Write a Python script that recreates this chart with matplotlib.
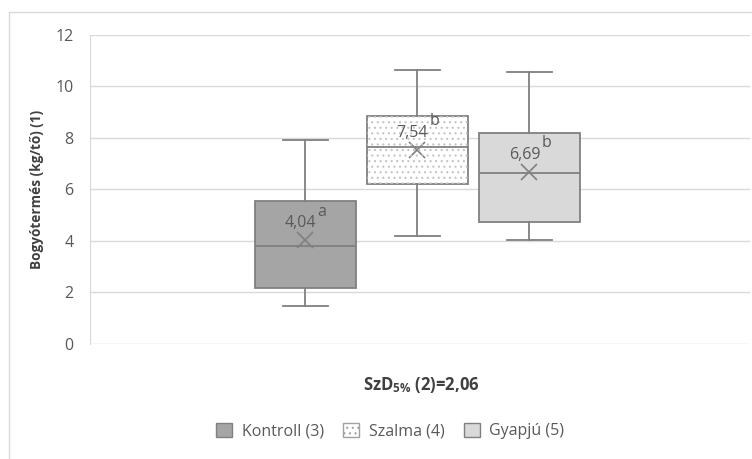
import matplotlib
matplotlib.use("Agg")
import matplotlib.pyplot as plt
from matplotlib.patches import PathPatch, Patch, Rectangle

plt.rcParams['font.family'] = ['Open Sans', 'DejaVu Sans']
plt.rcParams['mathtext.fontset'] = 'custom'
plt.rcParams['mathtext.rm'] = 'Open Sans'
plt.rcParams['mathtext.bf'] = 'Open Sans:bold'
plt.rcParams['mathtext.it'] = 'Open Sans:italic'
plt.rcParams['hatch.linewidth'] = 0.8

# data
groups = ["Kontroll (3)", "Szalma (4)", "Gyapjú (5)"]
whis_low = [1.47, 4.19, 4.04]
q1 = [2.17, 6.21, 4.74]
median = [3.80, 7.65, 6.64]
q3 = [5.55, 8.85, 8.19]
whis_high = [7.92, 10.64, 10.56]
means = [4.04, 7.54, 6.69]
mean_labels = ["4,04", "7,54", "6,69"]
letters = ["a", "b", "b"]
yticks = [0, 2, 4, 6, 8, 10, 12]

fills = ["#a5a5a5", "#ffffff", "#d9d9d9"]
edge = "#808080"
txt = "#595959"

fig = plt.figure(figsize=(7.52, 4.59), dpi=100)
ax = fig.add_axes([0.12, 0.2505, 0.877, 0.6735])

positions = [0.826, 0.996, 1.166]
stats = []
for i in range(len(groups)):
    stats.append(dict(whislo=whis_low[i], q1=q1[i], med=median[i], q3=q3[i],
                      whishi=whis_high[i], mean=means[i], fliers=[], label=groups[i]))

bp = ax.bxp(stats, positions=positions, widths=0.153, patch_artist=True,
            showmeans=True, meanline=False, showfliers=False,
            boxprops=dict(edgecolor=edge, linewidth=1.3),
            medianprops=dict(color=edge, linewidth=1.3),
            whiskerprops=dict(color=edge, linewidth=1.3),
            capprops=dict(color=edge, linewidth=1.3),
            meanprops=dict(marker='x', markersize=11, markeredgecolor=edge,
                           markeredgewidth=1.2))
for b, c in zip(bp['boxes'], fills):
    b.set_facecolor(c)
for cap in bp['caps']:
    xd = cap.get_xdata()
    mid = (xd[0] + xd[1]) / 2
    half = (xd[1] - xd[0]) / 2 * 0.9
    cap.set_xdata([mid - half, mid + half])

# dotted fill for Szalma
dots = PathPatch(bp['boxes'][1].get_path(), facecolor='none', edgecolor='#c4c4c4',
                 hatch='...', linewidth=0, zorder=bp['boxes'][1].get_zorder() + 0.1)
ax.add_patch(dots)

for i in range(len(groups)):
    ax.annotate(mean_labels[i], xy=(positions[i], means[i]), xytext=(-3.5, 9),
                textcoords='offset points', ha='center', va='baseline',
                fontsize=11.5, color=txt, zorder=5)
    ax.annotate(letters[i], xy=(positions[i], means[i]), xytext=(8.5, 17.5),
                textcoords='offset points', ha='left', va='baseline',
                fontsize=11.5, color=txt, zorder=5)

ax.set_xlim(0.5, 1.5)
ax.set_ylim(0, 12)
ax.set_yticks(yticks)
ax.set_yticklabels([str(t) for t in yticks])
ax.set_xticks([])
ax.yaxis.grid(True, color='#d9d9d9', linewidth=1)
ax.set_axisbelow(True)
for s in ['top', 'right', 'bottom']:
    ax.spines[s].set_visible(False)
ax.spines['left'].set_color('#d9d9d9')
ax.tick_params(axis='y', length=0, pad=12, labelsize=11.5, labelcolor=txt)

ax.set_ylabel("Bogyótermés (kg/tő) (1)", fontsize=9.8, fontweight='bold',
              color='#404040', labelpad=8)
fig.text(0.56, 0.161, r"SzD$_{\mathregular{5\%}}$ (2)=2,06", ha='center', va='center',
         fontsize=12, fontweight='bold', color='#404040')

handles = [Patch(facecolor=fills[0], edgecolor=edge),
           Patch(facecolor=fills[1], edgecolor='#a0a0a0', hatch='...'),
           Patch(facecolor=fills[2], edgecolor=edge)]
fig.legend(handles, groups, loc='center', bbox_to_anchor=(0.519, 0.061), ncol=3,
           frameon=False, fontsize=11.5, labelcolor=txt, handlelength=1.0,
           handleheight=1.0, columnspacing=1.2, handletextpad=0.6)

fig.patches.append(Rectangle((0.012, -0.01), 1.0, 0.984, transform=fig.transFigure,
                             fill=False, edgecolor='#d9d9d9', linewidth=1))

fig.savefig("out.png", dpi=100)
